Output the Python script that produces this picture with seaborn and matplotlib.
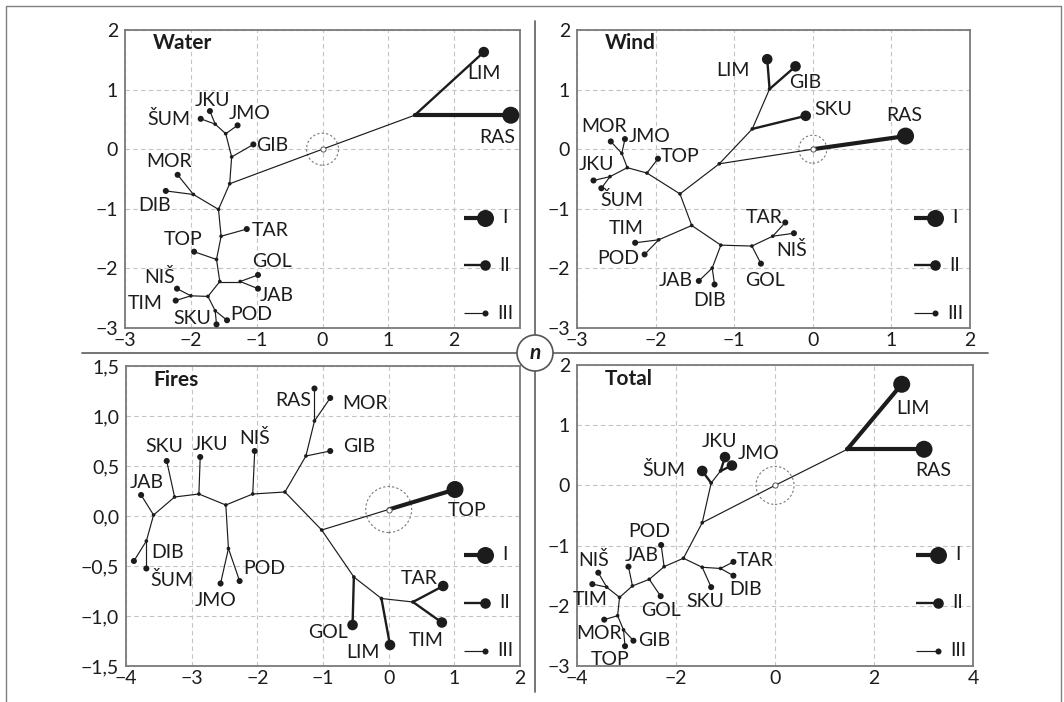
import numpy as np
import pandas as pd
import matplotlib
matplotlib.use("Agg")
import matplotlib.pyplot as plt
import seaborn as sns
from matplotlib.patches import Circle
from matplotlib.transforms import ScaledTranslation
from matplotlib.lines import Line2D

# ---------------- DATA ----------------
# Water
W_NODE = ["root", "wa", "LIM", "RAS", "wb", "wc", "GIB", "wd", "JMO", "we", "JKU", "ŠUM",
          "wf", "wg", "MOR", "DIB", "wh", "TAR", "wi", "TOP", "wj", "wk", "GOL", "JAB",
          "wl", "wm", "NIŠ", "TIM", "wn", "SKU", "POD"]
W_X = [0.0, 1.40, 2.45, 2.86, -1.41, -1.38, -1.05, -1.47, -1.29, -1.63, -1.71, -1.85,
       -1.58, -1.96, -2.20, -2.38, -1.54, -1.15, -1.61, -1.95, -1.56, -1.25, -0.98, -0.98,
       -1.74, -2.00, -2.21, -2.23, -1.63, -1.61, -1.45]
W_Y = [0.0, 0.57, 1.63, 0.57, -0.58, -0.13, 0.08, 0.26, 0.40, 0.42, 0.64, 0.51,
       -1.01, -0.76, -0.43, -0.70, -1.46, -1.34, -1.85, -1.72, -2.22, -2.22, -2.11, -2.34,
       -2.47, -2.46, -2.34, -2.54, -2.71, -2.94, -2.87]
W_PARENT = [None, "root", "wa", "wa", "root", "wb", "wc", "wc", "wd", "wd", "we", "we",
            "wb", "wf", "wg", "wg", "wf", "wh", "wh", "wi", "wi", "wj", "wk", "wk",
            "wj", "wl", "wm", "wm", "wl", "wn", "wn"]
W_CLASS = [None, "III", "II", "I"] + ["III"] * 27

# Wind
N_NODE = ["root", "RAS", "na", "nb", "SKU", "nc", "LIM", "GIB", "nd", "ne", "TOP", "nf",
          "ng", "MOR", "JMO", "nh", "JKU", "ŠUM", "ni", "nj", "TIM", "POD", "nk", "nl",
          "JAB", "DIB", "nm", "GOL", "nn", "TAR", "NIŠ"]
N_X = [0.0, 1.18, -1.19, -0.77, -0.09, -0.55, -0.58, -0.22, -1.69, -2.11, -1.97, -2.36,
       -2.43, -2.57, -2.39, -2.58, -2.79, -2.69, -1.54, -1.96, -2.26, -2.14, -1.17, -1.28,
       -1.45, -1.25, -0.775, -0.66, -0.51, -0.35, -0.24]
N_Y = [0.0, 0.22, -0.245, 0.34, 0.56, 1.01, 1.51, 1.39, -0.75, -0.40, -0.16, -0.31,
       -0.07, 0.13, 0.17, -0.46, -0.525, -0.655, -1.28, -1.52, -1.57, -1.765, -1.61, -1.995,
       -2.21, -2.27, -1.625, -1.92, -1.46, -1.23, -1.41]
N_PARENT = [None, "root", "root", "na", "nb", "nb", "nc", "nc", "na", "nd", "ne", "ne",
            "nf", "ng", "ng", "nf", "nh", "nh", "nd", "ni", "nj", "nj", "ni", "nk",
            "nl", "nl", "nk", "nm", "nm", "nn", "nn"]
N_CLASS = [None, "I", "III", "III", "II", "III", "II", "II"] + ["III"] * 23

# Fires
F_NODE = ["root", "TOP", "fa", "fb", "fc", "GIB", "fd", "RAS", "MOR", "fe", "NIŠ", "ff",
          "fg", "JMO", "POD", "fh", "JKU", "fi", "SKU", "fj", "JAB", "fk", "ŠUM", "DIB",
          "fl", "GOL", "fm", "LIM", "fn", "TAR", "TIM"]
F_X = [0.0, 1.01, -1.02, -1.58, -1.26, -0.89, -1.13, -1.13, -0.89, -2.07, -2.04, -2.48,
       -2.44, -2.56, -2.27, -2.89, -2.87, -3.26, -3.38, -3.58, -3.77, -3.69, -3.69, -3.88,
       -0.53, -0.55, -0.11, 0.02, 0.37, 0.83, 0.81]
F_Y = [0.065, 0.265, -0.14, 0.24, 0.60, 0.65, 0.95, 1.275, 1.18, 0.22, 0.65, 0.11,
       -0.325, -0.675, -0.65, 0.22, 0.59, 0.19, 0.55, 0.01, 0.21, -0.25, -0.525, -0.45,
       -0.61, -1.09, -0.825, -1.29, -0.86, -0.70, -1.065]
F_PARENT = [None, "root", "root", "fa", "fb", "fc", "fc", "fd", "fd", "fb", "fe", "fe",
            "ff", "fg", "fg", "ff", "fh", "fh", "fi", "fi", "fj", "fj", "fk", "fk",
            "fa", "fl", "fl", "fm", "fm", "fn", "fn"]
F_CLASS = [None, "I"] + ["III"] * 23 + ["II", "III", "II", "III", "II", "II"]

# Total
T_NODE = ["root", "ta", "LIM", "RAS", "tb", "tc", "ŠUM", "td", "JKU", "JMO", "te", "tf",
          "tg", "TAR", "DIB", "SKU", "th", "POD", "ti", "GOL", "tj", "JAB", "tk", "tl",
          "NIŠ", "TIM", "tm", "MOR", "tn", "TOP", "GIB"]
T_X = [0.0, 1.46, 2.56, 3.01, -1.47, -1.29, -1.47, -1.10, -1.01, -0.87, -1.85, -1.47,
       -1.10, -0.84, -0.84, -1.29, -2.24, -2.30, -2.54, -2.31, -2.88, -2.96, -3.14, -3.40,
       -3.57, -3.69, -3.18, -3.45, -3.06, -3.03, -2.86]
T_Y = [0.0, 0.60, 1.68, 0.60, -0.62, 0.04, 0.24, 0.24, 0.47, 0.33, -1.21, -1.36,
       -1.38, -1.27, -1.50, -1.69, -1.35, -0.99, -1.56, -1.84, -1.67, -1.35, -1.86, -1.69,
       -1.45, -1.64, -2.165, -2.23, -2.40, -2.67, -2.58]
T_PARENT = [None, "root", "ta", "ta", "root", "tb", "tc", "tc", "td", "td", "tb", "te",
            "tf", "tg", "tg", "tf", "te", "th", "th", "ti", "ti", "tj", "tj", "tk",
            "tl", "tl", "tk", "tm", "tm", "tn", "tn"]
T_CLASS = [None, "III", "I", "I", "III", "III", "II", "III", "II", "II"] + ["III"] * 21

PANEL_TITLES = ["Water", "Wind", "Fires", "Total"]
LEGEND_CLASSES = ["I", "II", "III"]

W_XTICKS = [-3, -2, -1, 0, 1, 2]
W_YTICKS = [-3, -2, -1, 0, 1, 2]
N_XTICKS = [-3, -2, -1, 0, 1, 2]
N_YTICKS = [-3, -2, -1, 0, 1, 2]
F_XTICKS = [-4, -3, -2, -1, 0, 1, 2]
F_YTICKS = [-1.5, -1.0, -0.5, 0.0, 0.5, 1.0, 1.5]
T_XTICKS = [-4, -2, 0, 2, 4]
T_YTICKS = [-3, -2, -1, 0, 1, 2]

# ---------------- LAYOUT / STYLE ----------------
W_LABEL_POS = {"LIM": (2.45, 1.27), "RAS": (2.66, 0.195), "JKU": (-1.67, 0.82), "JMO": (-1.11, 0.60),
               "ŠUM": (-2.34, 0.50), "GIB": (-0.76, 0.07), "MOR": (-2.33, -0.21), "DIB": (-2.55, -0.94),
               "TAR": (-0.79, -1.36), "TOP": (-2.11, -1.51), "GOL": (-0.77, -1.89), "JAB": (-0.69, -2.45),
               "NIŠ": (-2.47, -2.14), "TIM": (-2.69, -2.59), "SKU": (-1.98, -2.84), "POD": (-1.08, -2.77)}
N_LABEL_POS = {"LIM": (-1.02, 1.32), "GIB": (-0.10, 1.12), "SKU": (0.26, 0.665), "RAS": (1.165, 0.565),
               "MOR": (-2.66, 0.38), "JMO": (-2.08, 0.21), "TOP": (-1.69, -0.12), "JKU": (-2.75, -0.26),
               "ŠUM": (-2.43, -0.86), "TIM": (-2.37, -1.335), "POD": (-2.48, -1.83), "TAR": (-0.62, -1.14),
               "NIŠ": (-0.27, -1.69), "JAB": (-1.74, -2.21), "DIB": (-1.31, -2.54), "GOL": (-0.61, -2.21)}
F_LABEL_POS = {"TOP": (1.19, 0.05), "TAR": (0.47, -0.625), "GOL": (-0.92, -1.17), "LIM": (-0.39, -1.36),
               "TIM": (0.57, -1.24), "RAS": (-1.45, 1.16), "MOR": (-0.36, 1.125), "GIB": (-0.45, 0.70),
               "NIŠ": (-2.04, 0.785), "JKU": (-2.72, 0.72), "SKU": (-3.41, 0.69), "JAB": (-3.69, 0.33),
               "DIB": (-3.37, -0.36), "ŠUM": (-3.30, -0.635), "JMO": (-2.63, -0.84), "POD": (-1.90, -0.53)}
T_LABEL_POS = {"LIM": (2.78, 1.28), "RAS": (3.20, 0.24), "JKU": (-1.12, 0.725), "JMO": (-0.34, 0.53),
               "ŠUM": (-2.24, 0.255), "POD": (-2.54, -0.77), "JAB": (-2.69, -1.16), "NIŠ": (-3.67, -1.24),
               "TIM": (-3.74, -1.90), "GOL": (-2.31, -2.07), "SKU": (-1.40, -1.93), "DIB": (-0.59, -1.73),
               "TAR": (-0.40, -1.25), "MOR": (-3.55, -2.46), "GIB": (-2.44, -2.57), "TOP": (-3.33, -2.89)}

INK = "#1c1c1c"
SPINE = "#7a7a7a"
LW = {"I": 3.0, "II": 1.7, "III": 0.85}
MS = {"I": 150, "II": 58, "III": 19, "node": 7}
FS = 14

sns.set_theme(style="white")
plt.rcParams["font.family"] = ["Lato", "DejaVu Sans"]
plt.rcParams["axes.unicode_minus"] = True

fig = plt.figure(figsize=(10.64, 7.02), dpi=100)
fig.patch.set_facecolor("white")

AX_RECTS = [
    (125 / 1064, (702 - 328) / 702, 395 / 1064, 298 / 702),
    (577 / 1064, (702 - 328) / 702, 393 / 1064, 298 / 702),
    (126 / 1064, (702 - 666) / 702, 394 / 1064, 300 / 702),
    (577 / 1064, (702 - 666) / 702, 396 / 1064, 301 / 702),
]
LIMS = [((-3, 3), (-3, 2)), ((-3, 2), (-3, 2)), ((-4, 2), (-1.5, 1.5)), ((-4, 4), (-3, 2))]
CIRCLE_R = [0.16, 0.14, 0.23, 0.19]


def fmt_int(v):
    return ("\u2212" if v < 0 else "") + f"{abs(v):g}"


def fmt_comma(v):
    return ("\u2212" if v < 0 else "") + f"{abs(v):.1f}".replace(".", ",")


PANELS = [
    (W_NODE, W_X, W_Y, W_PARENT, W_CLASS, W_LABEL_POS, W_XTICKS, W_YTICKS, fmt_int),
    (N_NODE, N_X, N_Y, N_PARENT, N_CLASS, N_LABEL_POS, N_XTICKS, N_YTICKS, fmt_int),
    (F_NODE, F_X, F_Y, F_PARENT, F_CLASS, F_LABEL_POS, F_XTICKS, F_YTICKS, fmt_comma),
    (T_NODE, T_X, T_Y, T_PARENT, T_CLASS, T_LABEL_POS, T_XTICKS, T_YTICKS, fmt_int),
]

for k, (nodes, xs, ys, parents, classes, lpos, xt, yt, yfmt) in enumerate(PANELS):
    ax = fig.add_axes(AX_RECTS[k])
    df = pd.DataFrame(dict(node=nodes, x=xs, y=ys, parent=parents, cls=classes))
    pos = df.set_index("node")[["x", "y"]]

    segs = []
    for i, r in df.iterrows():
        if r.parent is None:
            continue
        px, py = pos.loc[r.parent]
        segs.append(dict(seg=i, x=px, y=py, cls=r.cls))
        segs.append(dict(seg=i, x=r.x, y=r.y, cls=r.cls))
    sdf = pd.DataFrame(segs)
    sns.lineplot(data=sdf, x="x", y="y", units="seg", estimator=None, sort=False,
                 size="cls", sizes=LW, color=INK, legend=False, ax=ax, zorder=3)

    mk = df[df.parent.notna()].copy()
    mk["kind"] = [c if n[0].isupper() else "node" for n, c in zip(mk.node, mk.cls)]
    sns.scatterplot(data=mk, x="x", y="y", size="kind", sizes=MS, color=INK,
                    linewidth=0, legend=False, ax=ax, zorder=4)

    root = df[df.parent.isna()].iloc[0]
    sns.scatterplot(x=[root.x], y=[root.y], s=14, color="white", edgecolor="#555555",
                    linewidth=0.7, legend=False, ax=ax, zorder=5)
    trans = fig.dpi_scale_trans + ScaledTranslation(root.x, root.y, ax.transData)
    ax.add_patch(Circle((0, 0), CIRCLE_R[k], transform=trans, fill=False,
                        ec="#777777", lw=0.8, ls=(0, (2.0, 2.0)), zorder=2))

    for name, (lx, ly) in lpos.items():
        ax.text(lx, ly, name, ha="center", va="center", fontsize=FS, color=INK, zorder=6)

    # legend
    for cls, yy in zip(LEGEND_CLASSES, [0.37, 0.21, 0.05]):
        ax.plot([0.857, 0.911], [yy, yy], transform=ax.transAxes, color=INK,
                lw=LW[cls], solid_capstyle="butt", zorder=6)
        ax.scatter([0.911], [yy], s=MS[cls], color=INK, linewidth=0,
                   transform=ax.transAxes, zorder=7)
        ax.text(0.962, yy, cls, transform=ax.transAxes, ha="center", va="center",
                fontsize=FS, color=INK)

    ax.text(0.07, 0.955, PANEL_TITLES[k], transform=ax.transAxes, ha="left", va="center",
            fontsize=15, fontweight="bold", color=INK)

    ax.set_xlim(*LIMS[k][0])
    ax.set_ylim(*LIMS[k][1])
    ax.set_xticks(xt)
    ax.set_xticklabels([fmt_int(v) for v in xt])
    ax.set_yticks(yt)
    ax.set_yticklabels([yfmt(v) for v in yt])
    ax.set_xlabel("")
    ax.set_ylabel("")
    ax.tick_params(length=0, labelsize=FS, colors=INK, pad=3)
    ax.tick_params(axis="y", pad=5)
    ax.grid(True, color="#c4c4c4", lw=0.8, ls=(0, (4, 3)))
    ax.set_axisbelow(True)
    for sp in ax.spines.values():
        sp.set_color(SPINE)
        sp.set_linewidth(1.3)
        sp.set_visible(True)

# dividers and frame
cx, cy = 535 / 1064, (702 - 353) / 702
fig.add_artist(Line2D([cx, cx], [(702 - 21) / 702, (702 - 692) / 702], transform=fig.transFigure,
                      color="#6a6a6a", lw=1.3))
fig.add_artist(Line2D([82 / 1064, 988 / 1064], [cy, cy], transform=fig.transFigure,
                      color="#6a6a6a", lw=1.3))
fig.add_artist(Line2D([6 / 1064, 6 / 1064, 1061 / 1064, 1061 / 1064],
                      [0, 1 - 6 / 702, 1 - 6 / 702, 0], transform=fig.transFigure,
                      color="#808080", lw=1.0))
ctr = fig.dpi_scale_trans + ScaledTranslation(cx, cy, fig.transFigure)
fig.add_artist(Circle((0, 0), 0.18, transform=ctr, facecolor="white", edgecolor="#555555",
                      lw=1.2, zorder=10))
fig.text(cx, cy, "n", ha="center", va="center", fontsize=15, fontweight="bold",
         fontstyle="italic", color=INK, zorder=11)

fig.savefig("out.png", dpi=100, facecolor="white")
